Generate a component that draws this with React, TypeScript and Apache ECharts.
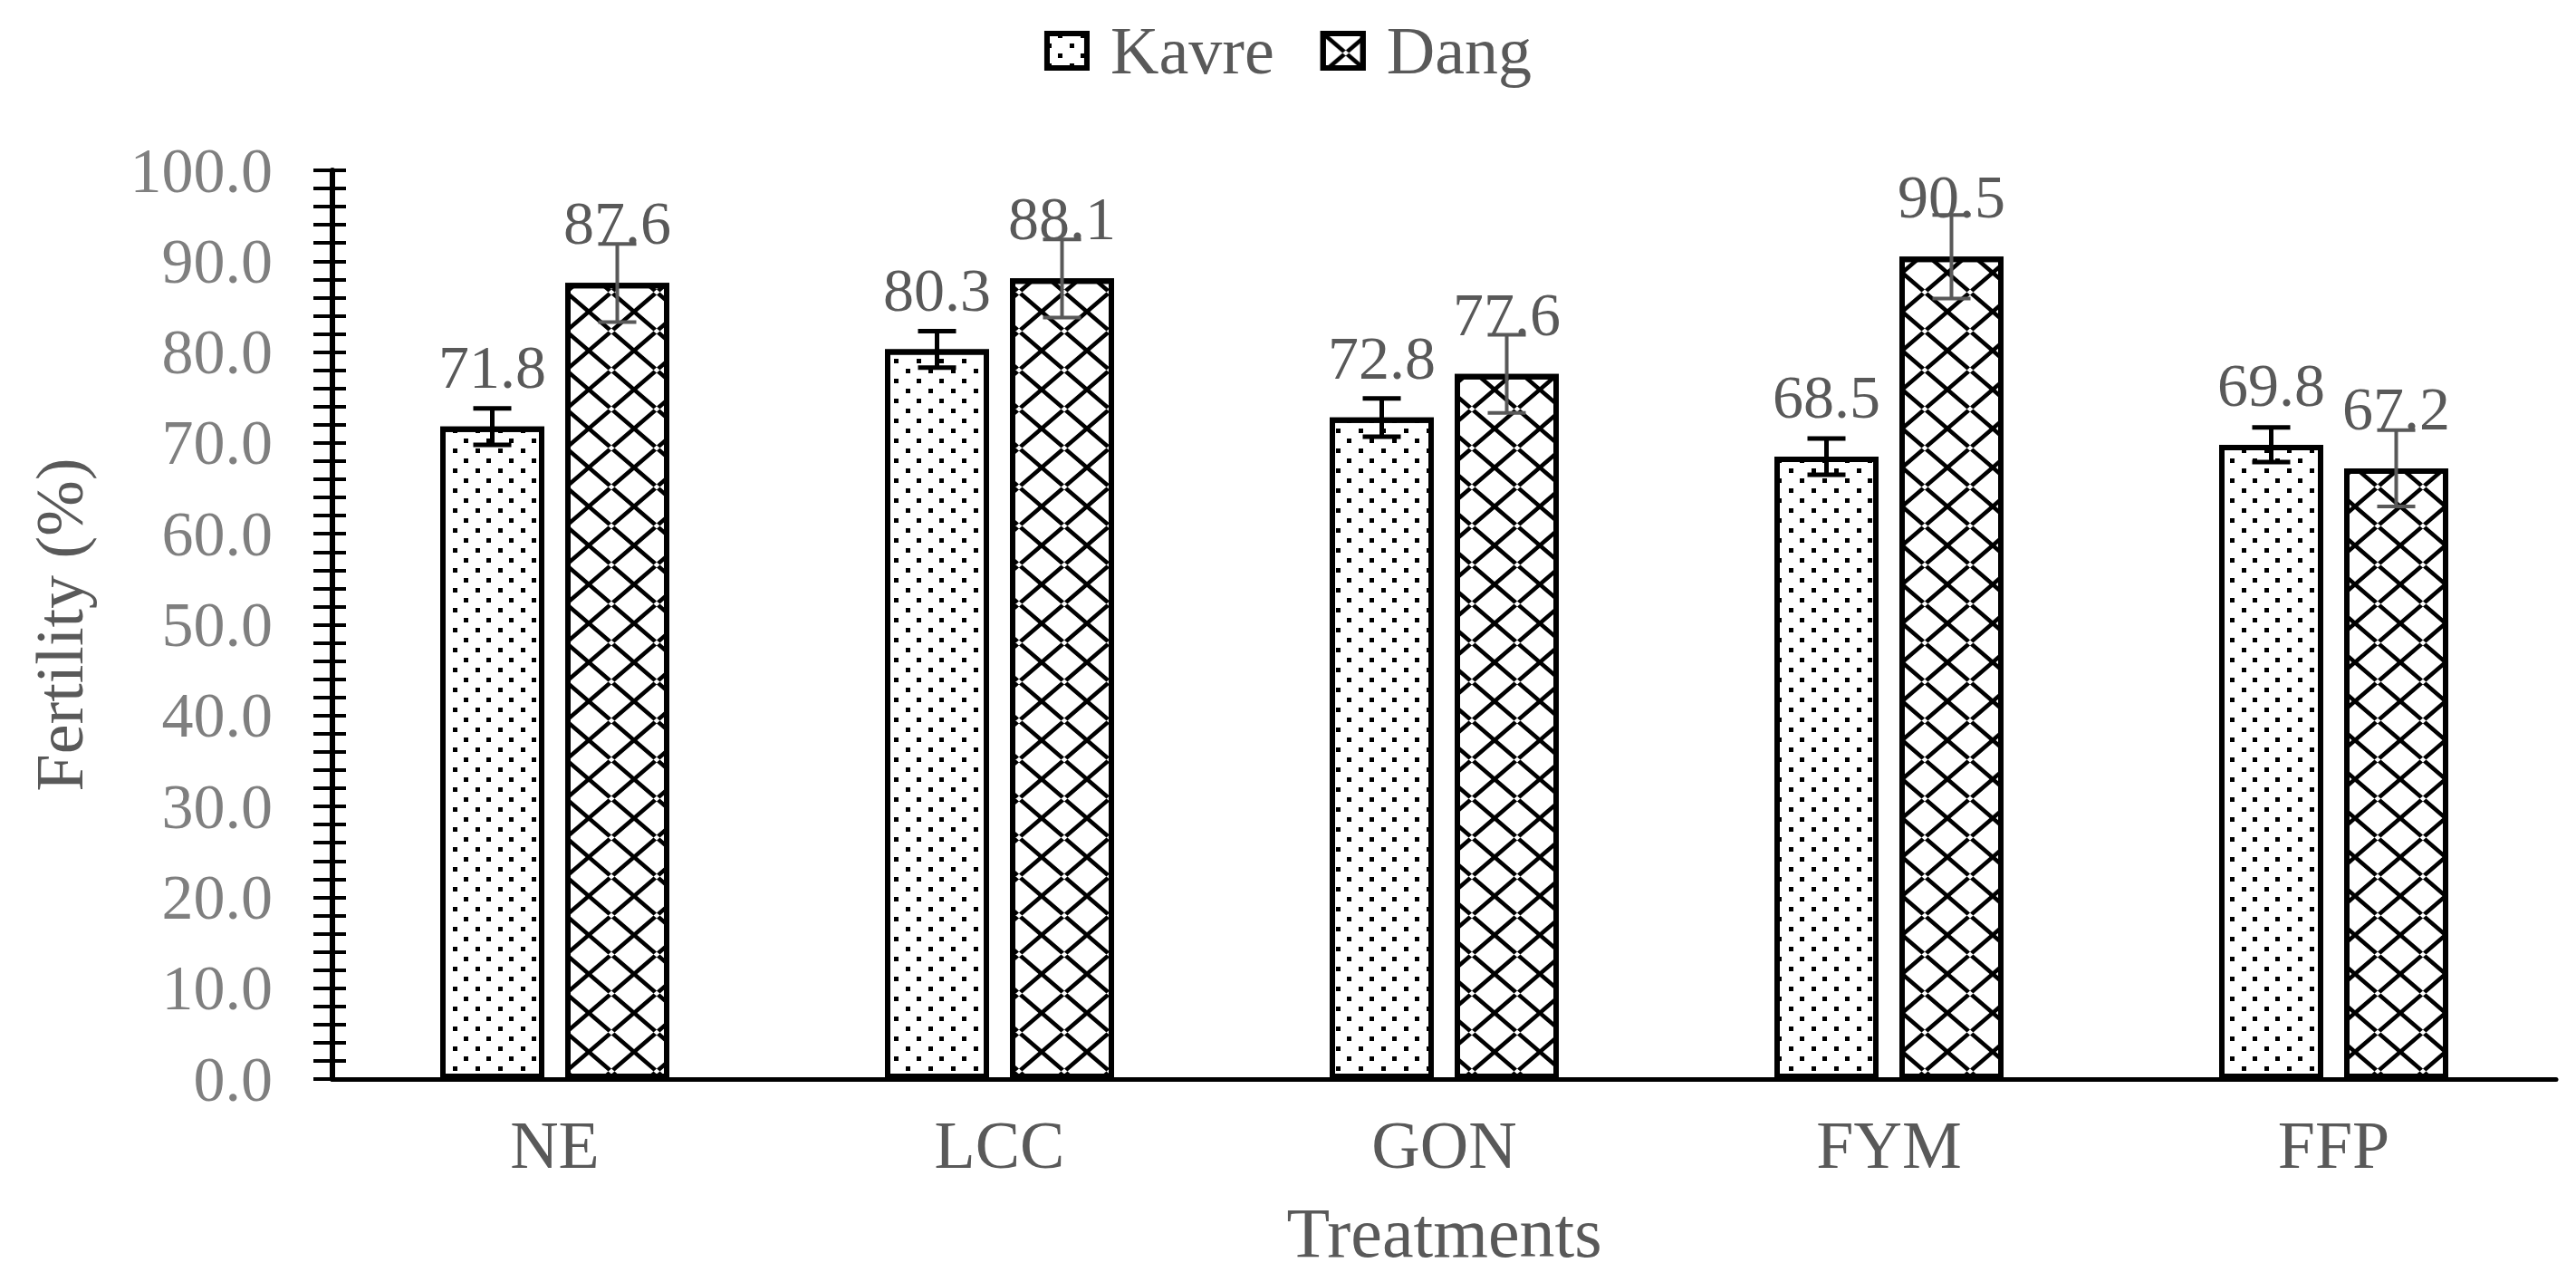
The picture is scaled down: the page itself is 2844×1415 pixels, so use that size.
import React, { useEffect, useRef } from "react";
import * as echarts from "echarts";

const categories = ["NE", "LCC", "GON", "FYM", "FFP"];
const kavre = [71.8, 80.3, 72.8, 68.5, 69.8];
const dang = [87.6, 88.1, 77.6, 90.5, 67.2];
const kavreErr = [2.0, 2.0, 2.1, 2.0, 1.9];
const dangErr = [4.3, 4.3, 4.3, 4.6, 4.2];
const yMin = 0;
const yMax = 100;
const yStep = 2;
const yLabelStep = 10;

const FONT = '"Liberation Serif", "Times New Roman", serif';
const BAR_W = 115;
const BAR_GAP = 23;

const latticePath =
  "path://M0 0 L3.5 0 L50 40 L50 43 L46.5 43 L0 3 Z M50 0 L46.5 0 L0 40 L0 43 L3.5 43 L50 3 Z";

export default function App() {
  const ref = useRef<HTMLDivElement>(null);
  useEffect(() => {
    if (!ref.current) return;
    const chart = echarts.init(ref.current, null, { renderer: "svg" });
    const offset = (BAR_W + BAR_GAP) / 2;
    const errSeries = (name: string, vals: number[], errs: number[], dir: number, color: string, lw: number) => ({
      type: "custom",
      name: name + "-err",
      z: 5,
      silent: true,
      data: vals.map((v, i) => [i, v, errs[i]]),
      encode: { x: 0, y: 1 },
      renderItem: (params: any, api: any) => {
        const idx = api.value(0);
        const v = api.value(1);
        const e = api.value(2);
        const top = api.coord([idx, v + e]);
        const bot = api.coord([idx, v - e]);
        const x = top[0] + dir * offset;
        const cw = 21;
        const style = { stroke: color, lineWidth: lw };
        return {
          type: "group",
          children: [
            { type: "line", shape: { x1: x, y1: top[1], x2: x, y2: bot[1] }, style },
            { type: "line", shape: { x1: x - cw, y1: top[1], x2: x + cw, y2: top[1] }, style },
            { type: "line", shape: { x1: x - cw, y1: bot[1], x2: x + cw, y2: bot[1] }, style },
          ],
        };
      },
    });
    const labelCfg = {
      show: true,
      position: "top",
      distance: 32,
      color: "#595959",
      fontFamily: FONT,
      fontSize: 68,
      formatter: (p: any) => Number(p.value).toFixed(1),
    };
    const option: any = {
      animation: false,
      backgroundColor: "#ffffff",
      legend: {
        top: 14,
        left: "center",
        itemWidth: 44,
        itemHeight: 38,
        itemGap: 51,
        icon: "rect",
        data: ["Kavre", "Dang"],
        itemStyle: { borderColor: "#000000", borderWidth: 6 },
        textStyle: {
          color: "#595959",
          fontFamily: FONT,
          fontSize: 74,
          padding: [0, 0, 0, 21],
        },
      },
      grid: { left: 367, right: 22, top: 188, bottom: 224, containLabel: false },
      xAxis: {
        type: "category",
        data: categories,
        name: "Treatments",
        nameLocation: "middle",
        nameGap: 130,
        nameTextStyle: { color: "#595959", fontFamily: FONT, fontSize: 78 },
        axisLine: { show: true, lineStyle: { color: "#000", width: 5 } },
        axisTick: { show: false },
        axisLabel: { color: "#595959", fontFamily: FONT, fontSize: 74, margin: 36 },
        splitLine: { show: false },
      },
      yAxis: [
        {
          type: "value",
          min: yMin,
          max: yMax,
          interval: yStep,
          name: "Fertility (%)",
          nameLocation: "middle",
          nameGap: 264,
          nameTextStyle: { color: "#595959", fontFamily: FONT, fontSize: 74 },
          axisLine: { show: true, lineStyle: { color: "#000", width: 6 } },
          axisTick: { show: true, inside: false, length: 21, lineStyle: { color: "#000", width: 4 } },
          axisLabel: {
            color: "#7f7f7f",
            fontFamily: FONT,
            fontSize: 70,
            margin: 66,
            formatter: (v: number) => (Math.round(v) % yLabelStep === 0 ? v.toFixed(1) : ""),
          },
          splitLine: { show: false },
        },
        {
          type: "value",
          min: yMin,
          max: yMax,
          interval: yStep,
          position: "left",
          offset: 0,
          axisLine: { show: false },
          axisTick: { show: true, inside: true, length: 15, lineStyle: { color: "#000", width: 4 } },
          axisLabel: { show: false },
          splitLine: { show: false },
        },
      ],
      series: [
        {
          type: "bar",
          name: "Kavre",
          data: kavre,
          barWidth: BAR_W,
          barGap: "20%",
          itemStyle: {
            color: "#ffffff",
            borderColor: "#000000",
            borderWidth: 6,
            decal: {
              symbol: "rect",
              symbolSize: 1,
              color: "#000000",
              dashArrayX: [[5, 20], [0, 12, 5, 8]],
              dashArrayY: [5, 6],
              rotation: 0,
            },
          },
          label: labelCfg,
        },
        {
          type: "bar",
          name: "Dang",
          data: dang,
          barWidth: BAR_W,
          barGap: "20%",
          itemStyle: {
            color: "#ffffff",
            borderColor: "#000000",
            borderWidth: 6,
            decal: {
              symbol: latticePath,
              symbolSize: 1,
              symbolKeepAspect: false,
              color: "#000000",
              dashArrayX: [[50, 0]],
              dashArrayY: [43, 0],
              rotation: 0,
            },
          },
          label: labelCfg,
        },
        errSeries("Kavre", kavre, kavreErr, -1, "#000000", 5),
        errSeries("Dang", dang, dangErr, 1, "#595959", 4),
      ],
    };
    chart.setOption(option);
    return () => chart.dispose();
  }, []);
  return (
    <div
      ref={ref}
      style={{ position: "absolute", left: 0, top: 0, width: 2844, height: 1415, background: "#fff" }}
    />
  );
}
